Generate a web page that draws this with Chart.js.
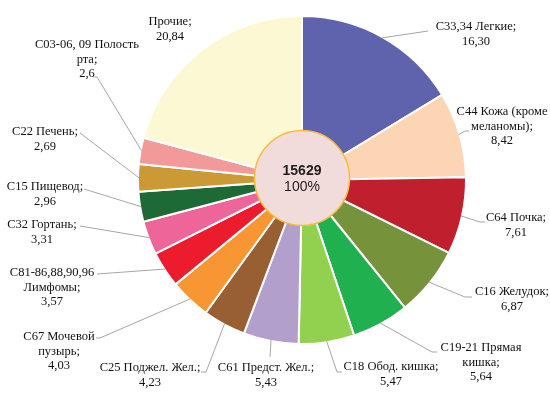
<!DOCTYPE html>
<html>
<head>
<meta charset="utf-8">
<script src="https://cdn.jsdelivr.net/npm/chart.js@4"></script>
<style>
  body { margin: 0; background: #fff; }
  #wrap { width: 550px; height: 393px; }
</style>
</head>
<body>
<div id="wrap"><canvas id="pieChart" width="550" height="393"></canvas></div>
<script>
// ================= DATA =================
const categories = [
    ['C33,34 Легкие'],
    ['C44 Кожа (кроме', 'меланомы)'],
    ['C64 Почка'],
    ['C16 Желудок'],
    ['C19-21 Прямая', 'кишка'],
    ['C18 Обод. кишка'],
    ['C61 Предст. Жел.'],
    ['C25 Поджел. Жел.'],
    ['C67 Мочевой', 'пузырь'],
    ['C81-86,88,90,96', 'Лимфомы'],
    ['C32 Гортань'],
    ['C15 Пищевод'],
    ['C22 Печень'],
    ['C03-06, 09 Полость', 'рта'],
    ['Прочие']
];
const shares = [16.30, 8.42, 7.61, 6.87, 5.64, 5.47, 5.43, 4.23, 4.03, 3.57, 3.31, 2.96, 2.69, 2.6, 20.84];
const shareText = ['16,30', '8,42', '7,61', '6,87', '5,64', '5,47', '5,43', '4,23', '4,03', '3,57', '3,31', '2,96', '2,69', '2,6', '20,84'];
const totalCases = '15629';
const totalShare = '100%';

// ================= STYLE / LAYOUT =================
const sliceColors = [
    '#5f63ad', '#fcd5b5', '#c01f2d', '#76933c', '#21b04f', '#92d050', '#b39fcb',
    '#985f32', '#f79632', '#ec1c2e', '#ee6699', '#1d6a37', '#cc9a35', '#f29a9a', '#fcf8d3'
];
// label centre x, first line y
const labelPos = [
    [476, 27], [502, 112], [516, 218], [512, 292], [481, 348], [391, 367], [266, 368],
    [150, 368], [59, 337], [52, 273], [42, 225], [45, 187], [45, 132], [87, 45], [170, 22]
];
// leader end x, end y, elbow x (null = none)
const leaders = [
    [428, 31, null], [465, 131, 469], [480, 222, 485], [465, 297, 472], [432, 352, 437],
    [337, 372, 342], [270, 357, null], [206, 372, 201], [100, 338, 96], [97, 274, null],
    [80, 226, null], [84, 189, null], [80, 133, null], [97, 77, 93], null
];

const lineHeight = 14.5;

// Draws leader lines, slice labels and the centre disc
const labelPlugin = {
    id: 'sliceLabels',
    afterDatasetsDraw(chart) {
        const ctx = chart.ctx;
        const arcs = chart.getDatasetMeta(0).data;
        ctx.save();

        // leader lines
        ctx.strokeStyle = '#a6a6a6';
        ctx.lineWidth = 1;
        arcs.forEach((arc, i) => {
            const ld = leaders[i];
            if (!ld) return;
            const p = arc.getProps(['x', 'y', 'startAngle', 'endAngle', 'outerRadius'], true);
            const mid = (p.startAngle + p.endAngle) / 2;
            const sx = p.x + Math.cos(mid) * (p.outerRadius - 1);
            const sy = p.y + Math.sin(mid) * (p.outerRadius - 1);
            ctx.beginPath();
            ctx.moveTo(sx, sy);
            ctx.lineTo(ld[0], ld[1]);
            if (ld[2] !== null) ctx.lineTo(ld[2], ld[1]);
            ctx.stroke();
        });

        // labels
        ctx.fillStyle = '#111111';
        ctx.font = '12.5px "Liberation Serif", "Times New Roman", serif';
        ctx.textAlign = 'center';
        ctx.textBaseline = 'middle';
        categories.forEach((name, i) => {
            const lines = name.slice();
            lines[lines.length - 1] += ';';
            lines.push(shareText[i]);
            lines.forEach((t, k) => {
                ctx.fillText(t, labelPos[i][0], labelPos[i][1] + k * lineHeight);
            });
        });

        // centre disc
        const c = arcs[0].getProps(['x', 'y'], true);
        ctx.beginPath();
        ctx.arc(c.x, c.y - 2, 47.5, 0, Math.PI * 2);
        ctx.fillStyle = '#f2dcdb';
        ctx.fill();
        ctx.strokeStyle = '#f8bc3c';
        ctx.lineWidth = 1.5;
        ctx.stroke();

        ctx.fillStyle = '#1e1e1e';
        ctx.font = 'bold 14px "Liberation Sans", Arial, sans-serif';
        ctx.fillText(totalCases, c.x, c.y - 9);
        ctx.font = '14px "Liberation Sans", Arial, sans-serif';
        ctx.fillText(totalShare, c.x, c.y + 7);
        ctx.restore();
    }
};

// ================= CHART =================
window.onload = function() {
    const ctx = document.getElementById('pieChart').getContext('2d');
    new Chart(ctx, {
        type: 'pie',
        data: {
            labels: categories.map(n => n.join(' ')),
            datasets: [{
                data: shares,
                backgroundColor: sliceColors,
                borderColor: '#ffffff',
                borderWidth: 2
            }]
        },
        options: {
            responsive: false,
            animation: false,
            layout: { padding: { top: 15, bottom: 48, left: 137, right: 83 } },
            plugins: {
                legend: { display: false },
                tooltip: { enabled: false }
            }
        },
        plugins: [labelPlugin]
    });
};
</script>
</body>
</html>
